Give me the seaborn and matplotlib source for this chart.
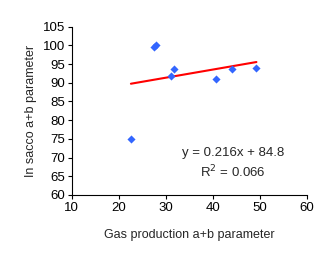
import numpy as np
import pandas as pd
import matplotlib
matplotlib.use("Agg")
import matplotlib.pyplot as plt
import seaborn as sns

gas_ab = [22.6, 27.6, 27.9, 31.2, 31.7, 40.6, 44.0, 49.3]
sacco_ab = [75.0, 99.6, 100.1, 91.7, 93.6, 90.9, 93.6, 93.9]
x_ticks = [10, 20, 30, 40, 50, 60]
y_ticks = [60, 65, 70, 75, 80, 85, 90, 95, 100, 105]
eq_text = "y = 0.216x + 84.8"
r2_text = "R$^2$ = 0.066"

sns.set_style("ticks")
plt.rcParams['font.family'] = ['Liberation Sans', 'DejaVu Sans']

df = pd.DataFrame({"gas": gas_ab, "sacco": sacco_ab})

fig = plt.figure(figsize=(3.31, 2.64), dpi=100)
ax = fig.add_axes([0.2166, 0.2614, 0.71, 0.6376])

sns.scatterplot(data=df, x="gas", y="sacco", marker="D", s=17,
                color="#3366FF", edgecolor="#3366FF", linewidth=0, ax=ax, zorder=3)

slope, intercept = np.polyfit(gas_ab, sacco_ab, 1)
xs = np.array([min(gas_ab), max(gas_ab)])
ax.plot(xs, slope * xs + intercept, color="#FF0000", lw=1.5, zorder=2)

ax.set_xlim(10, 60)
ax.set_ylim(60, 105)
ax.set_xticks(x_ticks)
ax.set_yticks(y_ticks)
ax.tick_params(axis="both", labelsize=9.5, length=3, width=0.8, pad=2, colors="black")
for s in ["top", "right"]:
    ax.spines[s].set_visible(False)
for s in ["left", "bottom"]:
    ax.spines[s].set_linewidth(0.8)
    ax.spines[s].set_color("black")

ax.set_xlabel("Gas production a+b parameter", fontsize=9, labelpad=11)
ax.set_ylabel("In sacco a+b parameter", fontsize=9, labelpad=4)

ax.text(44.3, 71.2, eq_text, ha="center", va="center", fontsize=9.5)
ax.text(44.3, 66.1, r2_text, ha="center", va="center", fontsize=9.5)

fig.savefig("out.png", dpi=100)
